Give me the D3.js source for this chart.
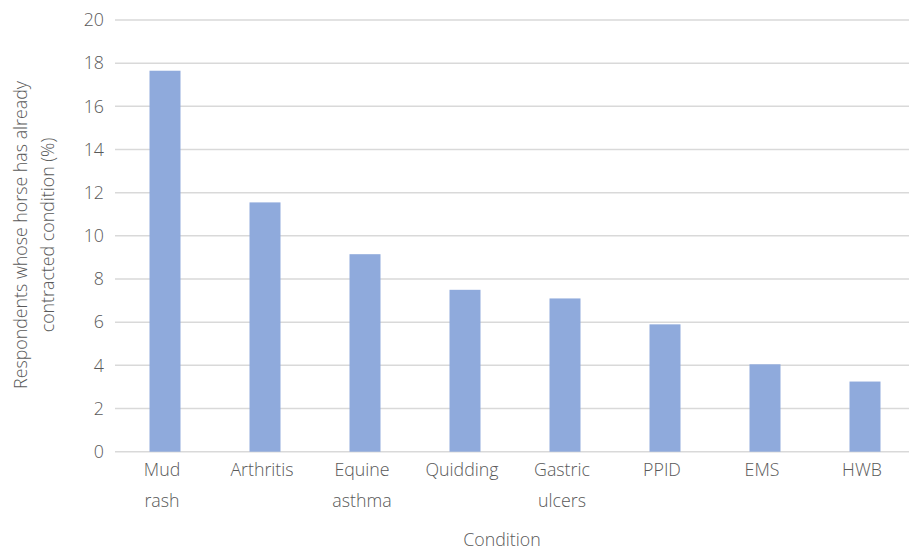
<!DOCTYPE html>
<html><head><meta charset="utf-8">
<script src="https://cdn.jsdelivr.net/npm/d3@7"></script>
<style>body{margin:0;background:#fff}svg{display:block}text{font-family:"Open Sans",sans-serif;font-weight:300;fill:#595959}</style>
</head><body><svg id="c" width="909" height="551"></svg>
<script>
const categories = [["Mud","rash"],["Arthritis"],["Equine","asthma"],["Quidding"],["Gastric","ulcers"],["PPID"],["EMS"],["HWB"]];
const values = [17.65, 11.55, 9.15, 7.5, 7.1, 5.9, 4.05, 3.25];
const yTicks = [0,2,4,6,8,10,12,14,16,18,20];
const yTitle = ["Respondents whose horse has already","contracted condition (%)"];
const xTitle = "Condition";

const svg = d3.select("#c");
const L = 115, R = 915, T = 20, B = 451.7;
const FS = 17.8;
const x = d3.scaleBand().domain(d3.range(categories.length)).range([L, R]).paddingInner(0.69).paddingOuter(0.345);
const y = d3.scaleLinear().domain([0, 20]).range([B, T]);

svg.append("g").selectAll("line").data(yTicks).join("line")
  .attr("x1", L).attr("x2", R).attr("y1", d => y(d)).attr("y2", d => y(d))
  .attr("stroke", "#d9d9d9").attr("stroke-width", 1.5);

svg.append("g").selectAll("text").data(yTicks).join("text")
  .attr("x", 104).attr("y", d => y(d)).attr("dy", "0.35em").attr("text-anchor", "end")
  .attr("font-size", FS).text(d => d);

svg.append("g").selectAll("rect").data(values).join("rect")
  .attr("x", (d, i) => x(i)).attr("width", x.bandwidth())
  .attr("y", d => y(d)).attr("height", d => B - y(d))
  .attr("fill", "#8faadc");

const cl = svg.append("g").selectAll("text").data(categories).join("text")
  .attr("text-anchor", "middle").attr("font-size", FS);
cl.each(function(d, i) {
  const t = d3.select(this);
  d.forEach((s, j) => t.append("tspan").attr("x", x(i) + x.bandwidth() / 2 - 3).attr("y", 476 + j * 31).text(s));
});

svg.append("text").attr("x", 502).attr("y", 546).attr("text-anchor", "middle").attr("font-size", FS).text(xTitle);

const yt = svg.append("text").attr("transform", "translate(0,235) rotate(-90)").attr("text-anchor", "middle").attr("font-size", FS);
yTitle.forEach((s, j) => yt.append("tspan").attr("x", 0).attr("y", 27 + j * 27).text(s));
</script></body></html>
